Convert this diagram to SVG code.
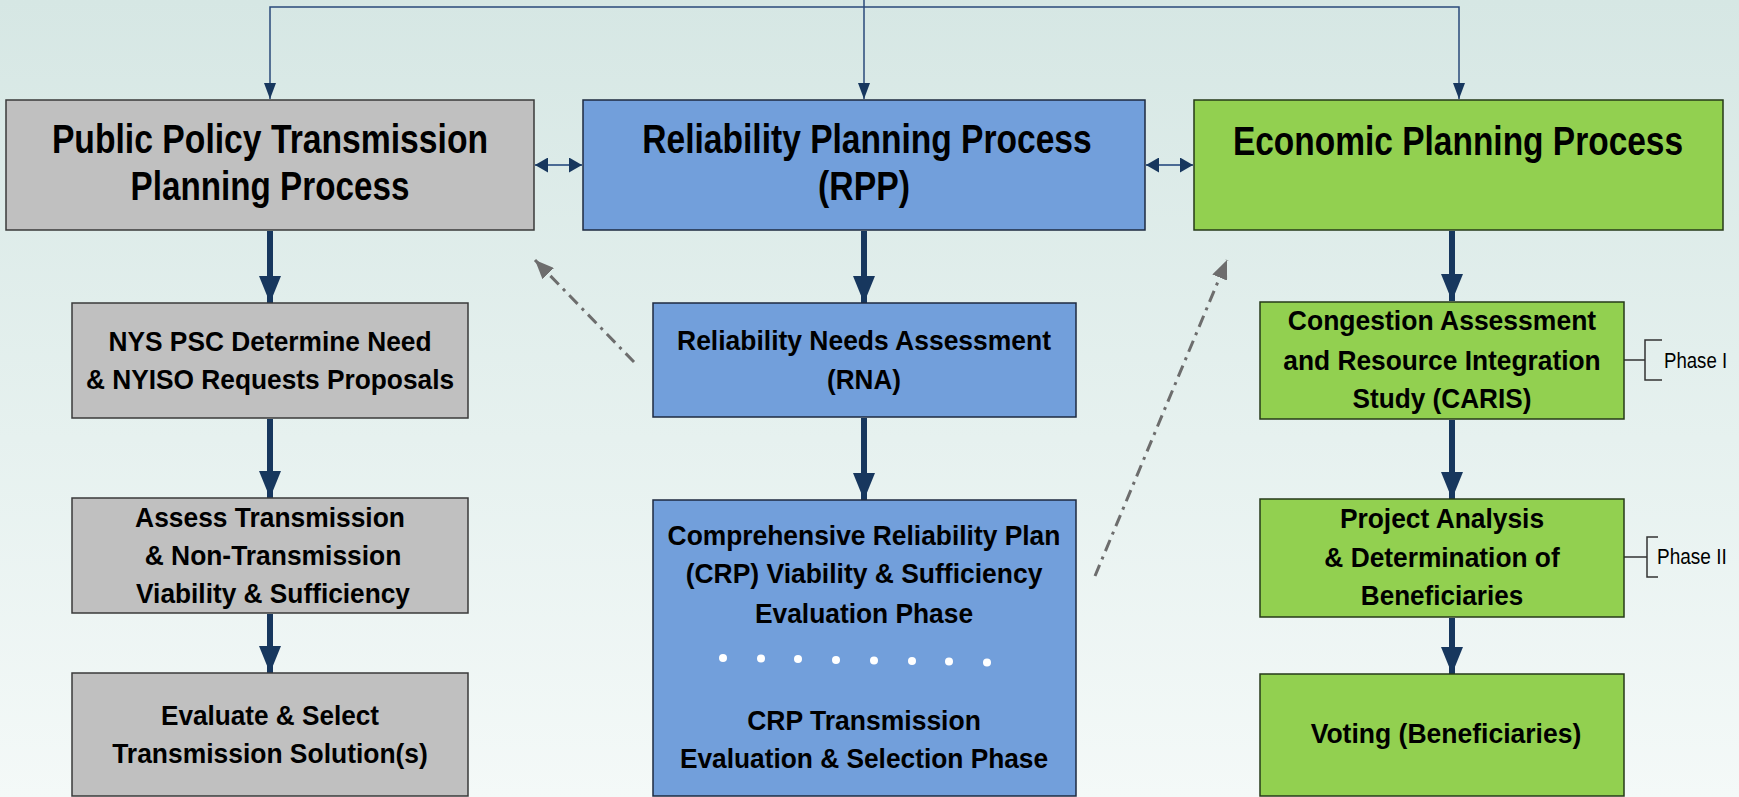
<svg xmlns="http://www.w3.org/2000/svg" width="1739" height="797" viewBox="0 0 1739 797">
<defs>
<linearGradient id="bg" x1="0" y1="0" x2="0" y2="1">
<stop offset="0" stop-color="#d6e7e4"/>
<stop offset="0.55" stop-color="#e6f1ef"/>
<stop offset="1" stop-color="#f4f9f8"/>
</linearGradient>
<marker id="thick" viewBox="0 0 27 22" refX="27" refY="11" markerWidth="27" markerHeight="22" markerUnits="userSpaceOnUse" orient="auto">
<path d="M0,0 L27,11 L0,22 z" fill="#17375e"/>
</marker>
<marker id="thin" viewBox="0 0 16 12" refX="16" refY="6" markerWidth="16" markerHeight="12" markerUnits="userSpaceOnUse" orient="auto-start-reverse">
<path d="M0,0 L16,6 L0,12 z" fill="#17375e"/>
</marker>
<marker id="bi" viewBox="0 0 13 15" refX="13" refY="7.5" markerWidth="13" markerHeight="15" markerUnits="userSpaceOnUse" orient="auto-start-reverse">
<path d="M0,0 L13,7.5 L0,15 z" fill="#17375e"/>
</marker>
<marker id="gray" viewBox="0 0 19 16" refX="19" refY="8" markerWidth="19" markerHeight="16" markerUnits="userSpaceOnUse" orient="auto">
<path d="M0,0 L19,8 L0,16 z" fill="#6d6d6d"/>
</marker>
</defs>
<style>
.grey{fill:#c0c0c0;stroke:#3a3a3a;stroke-width:1.5}
.blue{fill:#729fdb;stroke:#1e2a40;stroke-width:1.5}
.green{fill:#92d050;stroke:#263a18;stroke-width:1.5}
.t{font-family:"Liberation Sans",Arial,sans-serif;font-weight:bold;fill:#000;text-anchor:middle}
.t40{font-size:40px}
.t28{font-size:28px}
.ph{font-family:"Liberation Sans",Arial,sans-serif;font-size:22px;fill:#000}
.thk{stroke:#17375e;stroke-width:6;fill:none;marker-end:url(#thick)}
.thn{stroke:#2a4a7a;stroke-width:1.5;fill:none}
.bid{stroke:#4a6a94;stroke-width:1.8;fill:none;marker-start:url(#bi);marker-end:url(#bi)}
.dsh{stroke:#6d6d6d;stroke-width:3;fill:none;stroke-dasharray:12 6 3 6;marker-end:url(#gray)}
.brk{stroke:#333;stroke-width:1.5;fill:none}
.dot{fill:#fff}
</style>
<rect x="0" y="0" width="1739" height="797" fill="url(#bg)"/>

<g id="connectors">
<path class="thn" d="M270,99 V7 H1459 V99" marker-start="url(#thin)" marker-end="url(#thin)"/>
<path class="thn" d="M864,0 V99" marker-end="url(#thin)"/>
<path class="bid" d="M535,165 H582"/>
<path class="bid" d="M1146,165 H1193"/>
<path class="thk" d="M270,231 V303"/>
<path class="thk" d="M270,419 V498"/>
<path class="thk" d="M270,614 V673"/>
<path class="thk" d="M864,231 V303"/>
<path class="thk" d="M864,418 V500"/>
<path class="thk" d="M1452,231 V301"/>
<path class="thk" d="M1452,420 V499"/>
<path class="thk" d="M1452,618 V674"/>
<path class="dsh" d="M634,362 L535,260"/>
<path class="dsh" d="M1095,576 L1227,260"/>
<path class="brk" d="M1624,360 H1645 M1662,340 H1645 V380 H1662"/>
<path class="brk" d="M1624,557 H1647 M1658,537 H1647 V577 H1658"/>
</g>

<g id="public-policy">
<rect class="grey" x="6" y="100" width="528" height="130"/>
<text class="t t40" transform="translate(270,153) scale(0.82,1)" textLength="532" lengthAdjust="spacingAndGlyphs">Public Policy Transmission</text>
<text class="t t40" transform="translate(270,200) scale(0.82,1)" textLength="340" lengthAdjust="spacingAndGlyphs">Planning Process</text>
</g>

<g id="rpp">
<rect class="blue" x="583" y="100" width="562" height="130"/>
<text class="t t40" transform="translate(867,153) scale(0.82,1)" textLength="548" lengthAdjust="spacingAndGlyphs">Reliability Planning Process</text>
<text class="t t40" transform="translate(864,200) scale(0.82,1)" textLength="112" lengthAdjust="spacingAndGlyphs">(RPP)</text>
</g>

<g id="economic">
<rect class="green" x="1194" y="100" width="529" height="130"/>
<text class="t t40" transform="translate(1458,155) scale(0.82,1)" textLength="549" lengthAdjust="spacingAndGlyphs">Economic Planning Process</text>
</g>

<g id="nys-psc">
<rect class="grey" x="72" y="303" width="396" height="115"/>
<text class="t t28" transform="translate(270,351) scale(0.82,1)" textLength="394" lengthAdjust="spacingAndGlyphs">NYS PSC Determine Need</text>
<text class="t t28" transform="translate(270,389) scale(0.82,1)" textLength="449" lengthAdjust="spacingAndGlyphs">&amp; NYISO Requests Proposals</text>
</g>

<g id="assess">
<rect class="grey" x="72" y="498" width="396" height="115"/>
<text class="t t28" transform="translate(270,527) scale(0.82,1)" textLength="329" lengthAdjust="spacingAndGlyphs">Assess Transmission</text>
<text class="t t28" transform="translate(273,565) scale(0.82,1)" textLength="313" lengthAdjust="spacingAndGlyphs">&amp; Non-Transmission</text>
<text class="t t28" transform="translate(273,603) scale(0.82,1)" textLength="334" lengthAdjust="spacingAndGlyphs">Viability &amp; Sufficiency</text>
</g>

<g id="evaluate">
<rect class="grey" x="72" y="673" width="396" height="123"/>
<text class="t t28" transform="translate(270,725) scale(0.82,1)" textLength="266" lengthAdjust="spacingAndGlyphs">Evaluate &amp; Select</text>
<text class="t t28" transform="translate(270,763) scale(0.82,1)" textLength="385" lengthAdjust="spacingAndGlyphs">Transmission Solution(s)</text>
</g>

<g id="rna">
<rect class="blue" x="653" y="303" width="423" height="114"/>
<text class="t t28" transform="translate(864,350) scale(0.82,1)" textLength="456" lengthAdjust="spacingAndGlyphs">Reliability Needs Assessment</text>
<text class="t t28" transform="translate(864,389) scale(0.82,1)" textLength="90" lengthAdjust="spacingAndGlyphs">(RNA)</text>
</g>

<g id="crp">
<rect class="blue" x="653" y="500" width="423" height="296"/>
<text class="t t28" transform="translate(864,545) scale(0.82,1)" textLength="479" lengthAdjust="spacingAndGlyphs">Comprehensive Reliability Plan</text>
<text class="t t28" transform="translate(864,583) scale(0.82,1)" textLength="435" lengthAdjust="spacingAndGlyphs">(CRP) Viability &amp; Sufficiency</text>
<text class="t t28" transform="translate(864,623) scale(0.82,1)" textLength="266" lengthAdjust="spacingAndGlyphs">Evaluation Phase</text>
<circle class="dot" cx="723" cy="658" r="4"/>
<circle class="dot" cx="761" cy="658.5" r="4"/>
<circle class="dot" cx="798" cy="659" r="4"/>
<circle class="dot" cx="836" cy="660" r="4"/>
<circle class="dot" cx="874" cy="660.5" r="4"/>
<circle class="dot" cx="912" cy="661" r="4"/>
<circle class="dot" cx="949" cy="661.5" r="4"/>
<circle class="dot" cx="987" cy="662.5" r="4"/>
<text class="t t28" transform="translate(864,730) scale(0.82,1)" textLength="285" lengthAdjust="spacingAndGlyphs">CRP Transmission</text>
<text class="t t28" transform="translate(864,768) scale(0.82,1)" textLength="449" lengthAdjust="spacingAndGlyphs">Evaluation &amp; Selection Phase</text>
</g>

<g id="caris">
<rect class="green" x="1260" y="302" width="364" height="117"/>
<text class="t t28" transform="translate(1442,330) scale(0.82,1)" textLength="376" lengthAdjust="spacingAndGlyphs">Congestion Assessment</text>
<text class="t t28" transform="translate(1442,370) scale(0.82,1)" textLength="387" lengthAdjust="spacingAndGlyphs">and Resource Integration</text>
<text class="t t28" transform="translate(1442,408) scale(0.82,1)" textLength="218" lengthAdjust="spacingAndGlyphs">Study (CARIS)</text>
</g>

<g id="project-analysis">
<rect class="green" x="1260" y="499" width="364" height="118"/>
<text class="t t28" transform="translate(1442,528) scale(0.82,1)" textLength="249" lengthAdjust="spacingAndGlyphs">Project Analysis</text>
<text class="t t28" transform="translate(1442,567) scale(0.82,1)" textLength="287" lengthAdjust="spacingAndGlyphs">&amp; Determination of</text>
<text class="t t28" transform="translate(1442,605) scale(0.82,1)" textLength="198" lengthAdjust="spacingAndGlyphs">Beneficiaries</text>
</g>

<g id="voting">
<rect class="green" x="1260" y="674" width="364" height="122"/>
<text class="t t28" transform="translate(1446,743) scale(0.82,1)" textLength="330" lengthAdjust="spacingAndGlyphs">Voting (Beneficiaries)</text>
</g>

<g id="phase-labels">
<text class="ph" transform="translate(1664,368) scale(0.82,1)" textLength="77" lengthAdjust="spacingAndGlyphs">Phase I</text>
<text class="ph" transform="translate(1657,564) scale(0.82,1)" textLength="85" lengthAdjust="spacingAndGlyphs">Phase II</text>
</g>
</svg>
